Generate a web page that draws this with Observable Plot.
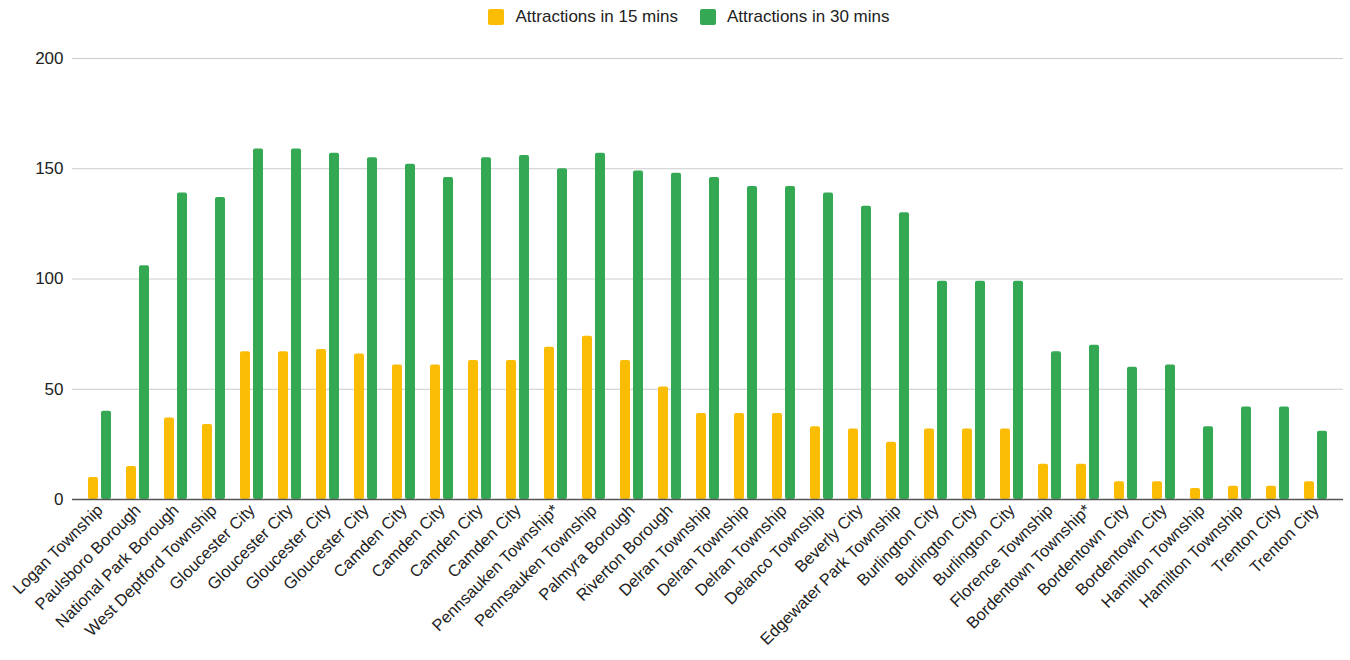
<!DOCTYPE html>
<html>
<head>
<meta charset="utf-8">
<script src="https://cdn.jsdelivr.net/npm/d3@7"></script>
<script src="https://cdn.jsdelivr.net/npm/@observablehq/plot@0.6"></script>
<style>
  html, body { margin: 0; padding: 0; background: #fff; }
  body { width: 1350px; height: 660px; overflow: hidden; font-family: "Liberation Sans", Arial, sans-serif; }
  #legend { height: 34px; display: flex; justify-content: center; align-items: center; font-size: 17px; color: #222; padding-left: 28px; box-sizing: border-box; }
  .item { display: flex; align-items: center; margin: 0 11px; }
  .sw { width: 16px; height: 16px; border-radius: 2px; margin-right: 11px; }
  #chart svg { display: block; }
</style>
</head>
<body>
<div id="legend"></div>
<div id="chart"></div>
<script>
const municipalities = [
  "Logan Township", "Paulsboro Borough", "National Park Borough", "West Deptford Township",
  "Gloucester City", "Gloucester City", "Gloucester City", "Gloucester City",
  "Camden City", "Camden City", "Camden City", "Camden City",
  "Pennsauken Township*", "Pennsauken Township", "Palmyra Borough", "Riverton Borough",
  "Delran Township", "Delran Township", "Delran Township", "Delanco Township",
  "Beverly City", "Edgewater Park Township", "Burlington City", "Burlington City",
  "Burlington City", "Florence Township", "Bordentown Township*", "Bordentown City",
  "Bordentown City", "Hamilton Township", "Hamilton Township", "Trenton City", "Trenton City"
];
const attractions15 = [10, 15, 37, 34, 67, 67, 68, 66, 61, 61, 63, 63, 69, 74, 63, 51, 39, 39, 39, 33, 32, 26, 32, 32, 32, 16, 16, 8, 8, 5, 6, 6, 8];
const attractions30 = [40, 106, 139, 137, 159, 159, 157, 155, 152, 146, 155, 156, 150, 157, 149, 148, 146, 142, 142, 139, 133, 130, 99, 99, 99, 67, 70, 60, 61, 33, 42, 42, 31];
const seriesNames = ["Attractions in 15 mins", "Attractions in 30 mins"];
const seriesColors = ["#FBBC04", "#34A853"];
const yTicks = [0, 50, 100, 150, 200];

const rows = municipalities.map((name, i) => ({i, name, v15: attractions15[i], v30: attractions30[i]}));

const legend = document.getElementById("legend");
seriesNames.forEach((s, k) => {
  const it = document.createElement("div");
  it.className = "item";
  const sw = document.createElement("div");
  sw.className = "sw";
  sw.style.background = seriesColors[k];
  const tx = document.createElement("span");
  tx.textContent = s;
  it.appendChild(sw); it.appendChild(tx);
  legend.appendChild(it);
});

const chart = Plot.plot({
  width: 1350,
  height: 626,
  marginLeft: 72,
  marginRight: 7,
  marginTop: 24,
  marginBottom: 161,
  style: {fontFamily: "'Liberation Sans', Arial, sans-serif", fontSize: "16.5px", color: "#222", background: "#fff"},
  x: {type: "band", domain: d3.range(municipalities.length), paddingInner: 0.4, paddingOuter: 0.34},
  y: {domain: [0, 200]},
  marks: [
    Plot.gridY(yTicks.slice(1), {stroke: "#cccccc", strokeOpacity: 1, strokeWidth: 1}),
    Plot.axisY(yTicks, {tickSize: 0, tickPadding: 9, fontSize: 17, label: null, fill: "#222"}),
    Plot.barY(rows, {x: "i", y: "v15", fill: seriesColors[0], insetRight: 13, rx: 2}),
    Plot.barY(rows, {x: "i", y: "v30", fill: seriesColors[1], insetLeft: 13, rx: 2}),
    Plot.ruleY([0], {stroke: "#555", strokeWidth: 1.5}),
    Plot.axisX({tickFormat: i => municipalities[i], tickRotate: -45, tickSize: 0, tickPadding: 8, fontSize: 16.5, label: null, fill: "#222"})
  ]
});
document.getElementById("chart").appendChild(chart);
</script>
</body>
</html>
